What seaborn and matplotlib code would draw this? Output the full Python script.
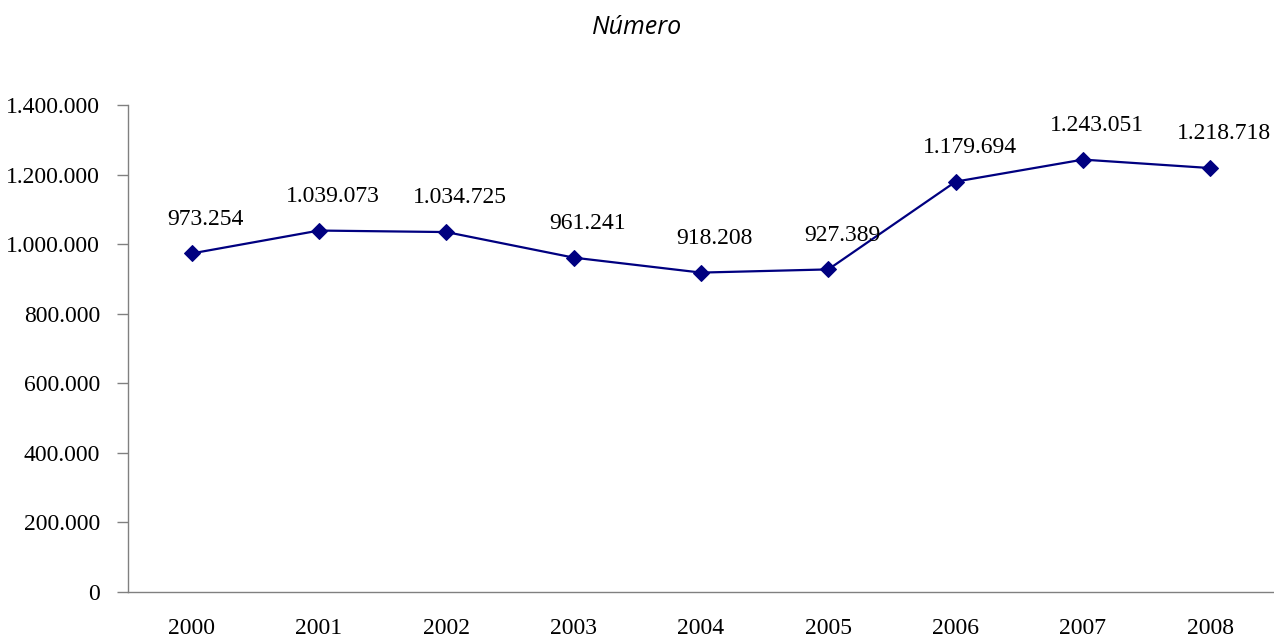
import matplotlib
matplotlib.use("Agg")
import matplotlib.pyplot as plt
import seaborn as sns
import pandas as pd
import numpy as np
from matplotlib.ticker import FuncFormatter, FixedLocator

years = ["2000", "2001", "2002", "2003", "2004", "2005", "2006", "2007", "2008"]
values = [973254, 1039073, 1034725, 961241, 918208, 927389, 1179694, 1243051, 1218718]
yticks = [0, 200000, 400000, 600000, 800000, 1000000, 1200000, 1400000]

sns.set_theme(style="white")
plt.rcParams['font.family'] = ['Liberation Serif', 'DejaVu Serif']

def fmt(v):
    return f"{int(v):,}".replace(",", ".")

df = pd.DataFrame({"pos": np.arange(len(years)), "value": values})

fig = plt.figure(figsize=(12.74, 6.41), dpi=100)
ax = fig.add_axes([128/1274, 1-592/641, 1-128/1274, (592-105)/641])

sns.lineplot(data=df, x="pos", y="value", ax=ax, color="#000080", linewidth=1.6,
             marker="D", markersize=8, markeredgecolor="#000080", markerfacecolor="#000080")

ax.set_xlim(-0.5, len(years) - 0.5)
ax.set_ylim(0, 1400000)
ax.set_yticks(yticks)
ax.yaxis.set_major_formatter(FuncFormatter(lambda v, p: fmt(v)))
ax.set_xticks(np.arange(len(years)))
ax.set_xticklabels(years)
ax.xaxis.set_minor_locator(FixedLocator(np.arange(len(years) + 1) - 0.5))
ax.tick_params(axis="x", which="major", length=0, pad=19, labelsize=17, colors="black")
ax.tick_params(axis="x", which="minor", length=8, width=1, color="#808080", direction="out")
ax.tick_params(axis="y", which="major", length=8, width=1, color="#808080", direction="out",
               labelsize=17, pad=12, left=True, labelcolor="black")
ax.set_xlabel("")
ax.set_ylabel("")

for s in ["top", "right"]:
    ax.spines[s].set_visible(False)
for s in ["left", "bottom"]:
    ax.spines[s].set_color("#808080")
    ax.spines[s].set_linewidth(1)

for i, v in enumerate(values):
    ax.annotate(fmt(v), (i, v), xytext=(10, 17), textcoords="offset points",
                ha="center", va="bottom", fontsize=17, color="black")

fig.text(0.5, 1-28/641, "Número", ha="center", va="center", fontsize=18,
         style="italic", family=["Open Sans", "DejaVu Sans"], color="black")

fig.savefig("out.png", dpi=100)
